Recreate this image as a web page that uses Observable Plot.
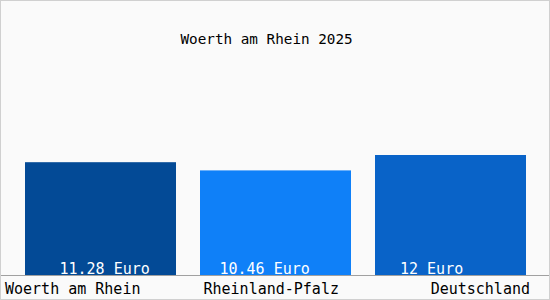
<!DOCTYPE html>
<html>
<head>
<meta charset="utf-8">
<script src="https://cdn.jsdelivr.net/npm/d3@7"></script>
<script src="https://cdn.jsdelivr.net/npm/@observablehq/plot@0.6"></script>
<style>
  html, body { margin: 0; padding: 0; background: #fafafa; }
  #chart svg { display: block; outline: 1px solid #d0d0d0; outline-offset: -1px; }
</style>
</head>
<body>
<div id="chart"></div>
<script>
const title = "Woerth am Rhein 2025";
const categories = ["Woerth am Rhein", "Rheinland-Pfalz", "Deutschland"];
const values = [11.28, 10.46, 12];
const valueLabels = ["11.28 Euro", "10.46 Euro", "12 Euro"];
const colors = ["#034a96", "#0f80f8", "#0963c8"];

const data = categories.map((c, i) => ({category: c, value: values[i], label: valueLabels[i], color: colors[i]}));

// per-bar label placement (as in the reference)
const valueDx = [-41.5, -56.5, -51];
const catAnchor = ["start", "start", "end"];
const catDx = [-96, -72.5, 79];

const marks = [
  Plot.barY(data, {x: "category", y: "value", fill: "color"}),
  Plot.ruleY([0], {stroke: "#a0a0a0", insetLeft: -13, insetRight: -12}),
  Plot.text([title], {frameAnchor: "top-left", textAnchor: "start", lineAnchor: "bottom", dx: 167, dy: -32, fontSize: 14.3, fill: "#000"})
];
data.forEach((d, i) => {
  marks.push(Plot.text([d], {x: "category", y: 0, text: "label", fill: "white", textAnchor: "start", lineAnchor: "bottom", dx: valueDx[i], dy: -2, fontSize: 15}));
  marks.push(Plot.text([d], {x: "category", y: 0, text: "category", fill: "#000", textAnchor: catAnchor[i], lineAnchor: "bottom", dx: catDx[i], dy: 18, fontSize: 15}));
});

const chart = Plot.plot({
  width: 550,
  height: 300,
  marginLeft: 13,
  marginRight: 12,
  marginTop: 75,
  marginBottom: 25,
  style: {fontFamily: "DejaVu Sans Mono", background: "#fafafa", color: "#000"},
  x: {domain: categories, paddingInner: 24/175, paddingOuter: 12/175, align: 0.5, axis: null},
  y: {domain: [0, 20], axis: null},
  color: {type: "identity"},
  marks
});
document.getElementById("chart").appendChild(chart);
</script>
</body>
</html>
